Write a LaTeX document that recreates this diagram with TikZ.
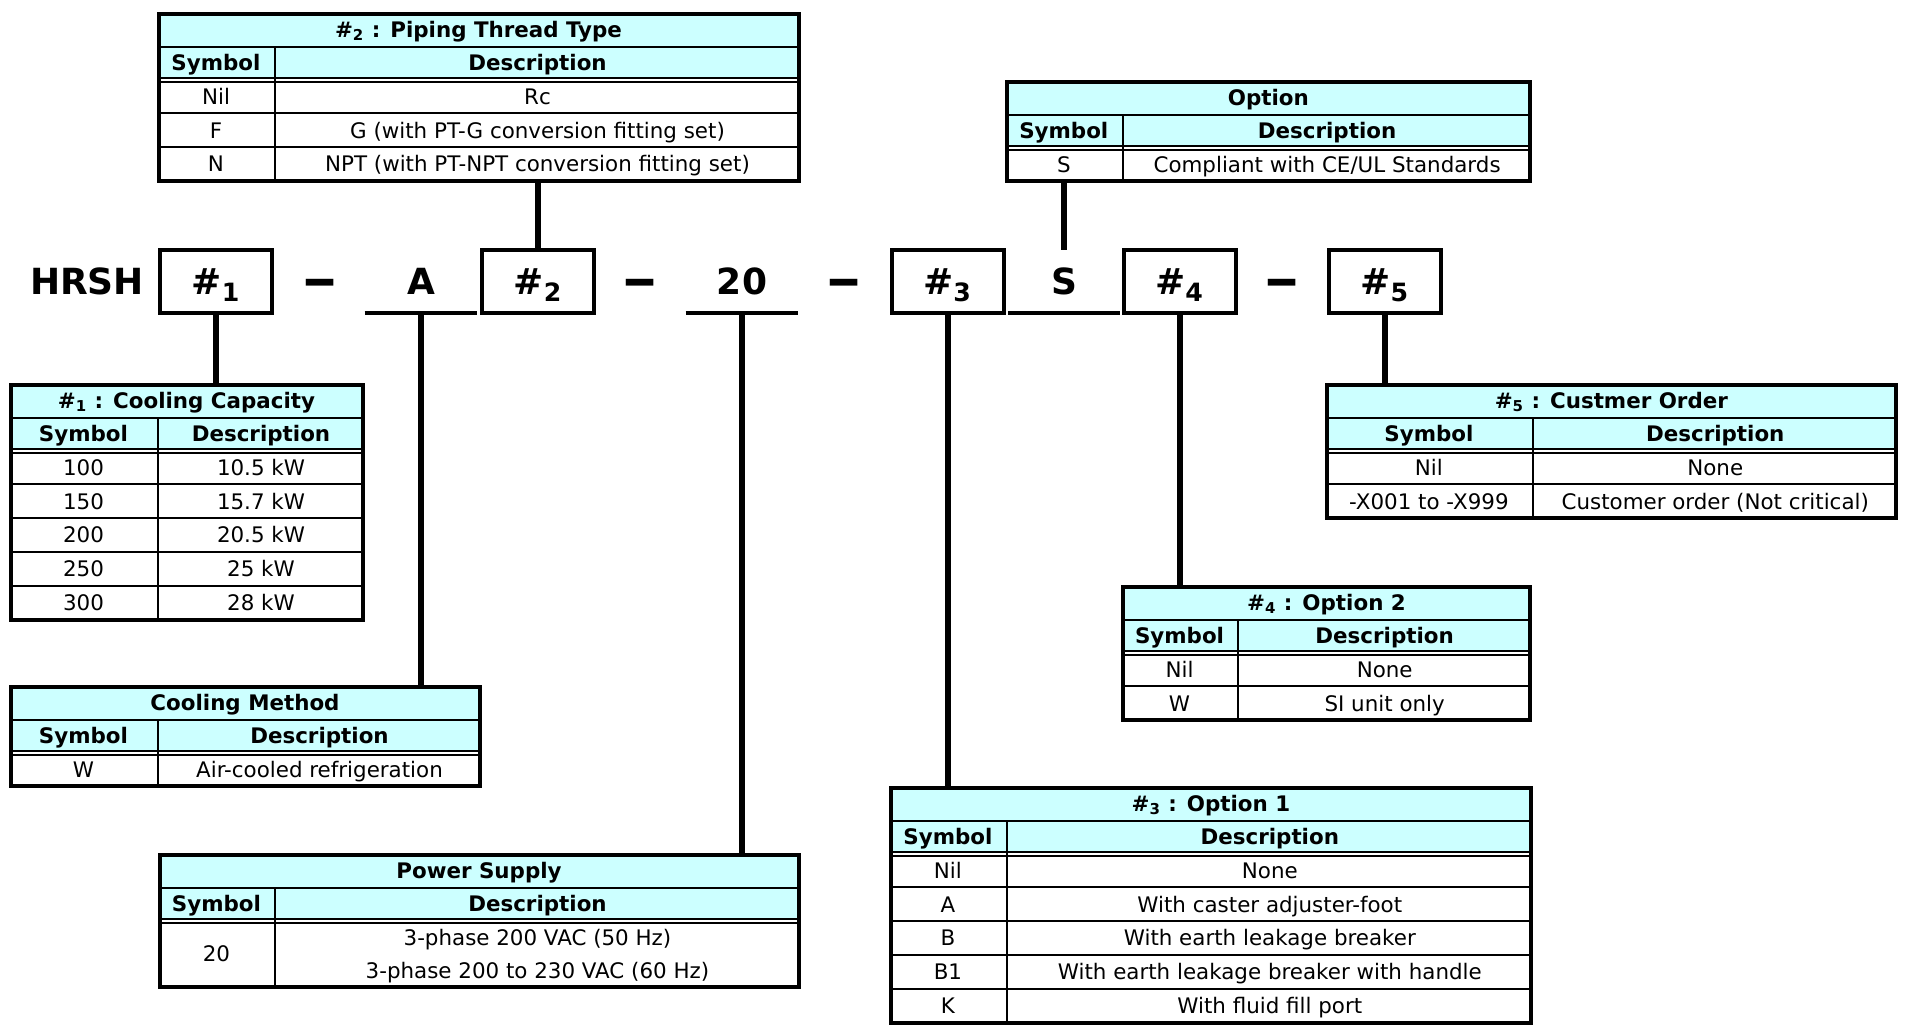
\documentclass[tikz,border=0pt]{standalone}
\usepackage{fontspec}
\setmainfont{DejaVu Sans}
\usetikzlibrary{fit}
\definecolor{hdr}{RGB}{204,255,255}
\tikzset{
  cell/.style={inner sep=0pt, font=\fontsize{10.7}{12}\selectfont, text height=7.8pt, text depth=0pt},
  hcell/.style={inner sep=0pt, font=\fontsize{10.7}{12}\selectfont\bfseries, text height=7.8pt, text depth=0pt},
  big/.style={inner sep=0pt, font=\fontsize{18}{22}\selectfont\bfseries, text height=13.1pt, text depth=0pt, minimum width=56pt, minimum height=31.5pt},
  codebox/.style={big, draw, line width=2pt},
  dashmark/.style={inner sep=0pt, font=\fontsize{27}{30}\selectfont\bfseries, text height=0pt, text depth=0pt},
  conn/.style={line width=3pt},
  thinline/.style={line width=1pt},
  frame/.style={draw, line width=2pt, inner sep=0pt},
  uline/.style={line width=2pt},
}
\newcommand{\spectab}[9]{%
  % #1 name, #2 x0, #3 y0, #4 x1, #5 divider x, #6 title, #7 rows, #8 row height, #9 list
  \pgfmathsetmacro\tya{#3+34.5}%
  \pgfmathsetmacro\tyb{#3+67.5}%
  \pgfmathsetmacro\tyc{#3+67.5+#7*#8}%
  \fill[hdr] (#2,#3) rectangle (#4,\tyb-2);
  \node[hcell] (#1-title) at ({(#2+#4)/2},{(#3+\tya)/2}) {#6};
  \node[hcell] (#1-sym) at ({(#2+#5)/2},{(\tya+\tyb)/2}) {Symbol};
  \node[hcell] (#1-desc) at ({(#5+#4)/2},{(\tya+\tyb)/2}) {Description};
  \draw[thinline] (#2,\tya) -- (#4,\tya);
  \draw[thinline] (#2,\tyb-2) -- (#4,\tyb-2) (#2,\tyb+2) -- (#4,\tyb+2);
  \draw[thinline] (#5,\tya) -- (#5,\tyc);
  \foreach \s/\d [count=\i] in {#9} {
    \pgfmathsetmacro\tyr{\tyb+(\i-0.5)*#8}
    \node[cell] (#1-s\i) at ({(#2+#5)/2},\tyr) {\s};
    \node[cell] (#1-d\i) at ({(#5+#4)/2},\tyr) {\d};
    \ifnum\i<#7 \draw[thinline] (#2,{\tyb+\i*#8}) -- (#4,{\tyb+\i*#8}); \fi
  }
  \coordinate (#1-nw) at ({#2+1.5},{#3+1.5});
  \coordinate (#1-se) at ({#4-1.5},\tyc);
  \node[frame, fit=(#1-nw)(#1-se)] (#1) {};
}
\begin{document}
\begin{tikzpicture}[x=0.5pt,y=-0.5pt]
\useasboundingbox (0,0) rectangle (1910,1024);

% model code line
\node[big, minimum width=0pt] (hrsh) at (87,281.5) {HRSH};
\node[codebox] (b1) at (216,281.5) {\#\textsubscript{1}};
\node[dashmark] (d1) at (320,297) {\scalebox{1.3}[1]{–}};
\node[big] (la) at (421,281.5) {A};
\node[codebox] (b2) at (538,281.5) {\#\textsubscript{2}};
\node[dashmark] (d2) at (640.5,297) {\scalebox{1.3}[1]{–}};
\node[big] (l20) at (742,281.5) {20};
\node[dashmark] (d3) at (844.5,297) {\scalebox{1.3}[1]{–}};
\node[codebox] (b3) at (947.5,281.5) {\#\textsubscript{3}};
\node[big, minimum width=55.5pt] (ls) at (1064,281.5) {S};
\node[codebox] (b4) at (1179.5,281.5) {\#\textsubscript{4}};
\node[dashmark] (d4) at (1282.5,297) {\scalebox{1.3}[1]{–}};
\node[codebox] (b5) at (1384.7,281.5) {\#\textsubscript{5}};
\draw[uline] (la.south west) -- (la.south east);
\draw[uline] (l20.south west) -- (l20.south east);
\draw[uline] (ls.south west) -- (ls.south east);

% tables
\spectab{t2}{157}{12}{800}{275}{\#\textsubscript{2} : Piping Thread Type}{3}{33.8}{Nil/Rc,F/{G (with PT-G conversion fitting set)},N/{NPT (with PT-NPT conversion fitting set)}}
\spectab{to}{1005}{80}{1531.6}{1122.6}{Option}{1}{33.8}{S/{Compliant with CE/UL Standards}}
\spectab{t1}{9}{383}{364}{158}{\#\textsubscript{1} : Cooling Capacity}{5}{33.8}{100/10.5 kW,150/15.7 kW,200/20.5 kW,250/25 kW,300/28 kW}
\spectab{tc}{9}{685}{481}{158}{Cooling Method}{1}{33.8}{W/Air-cooled refrigeration}
\spectab{tp}{158}{853}{800}{275}{Power Supply}{1}{66}{20/{}}
\node[cell] (tp-l1) at (537.5,938) {3-phase 200 VAC (50 Hz)};
\node[cell] (tp-l2) at (537.5,970.5) {3-phase 200 to 230 VAC (60 Hz)};
\spectab{t3}{889}{786}{1532.8}{1006.8}{\#\textsubscript{3} : Option 1}{5}{33.8}{Nil/None,A/With caster adjuster-foot,B/With earth leakage breaker,B1/With earth leakage breaker with handle,K/With fluid fill port}
\spectab{t4}{1121.4}{585}{1531.6}{1237.7}{\#\textsubscript{4} : Option 2}{2}{33.8}{Nil/None,W/SI unit only}
\spectab{t5}{1325}{383}{1897.7}{1532.8}{\#\textsubscript{5} : Custmer Order}{2}{33.8}{Nil/None,-X001 to -X999/Customer order (Not critical)}

% connectors
\draw[conn] (b1.south) -- (b1.south |- t1.north);
\draw[conn] (b2.north) -- (b2.north |- t2.south);
\draw[conn] (la.south) -- (la.south |- tc.north);
\draw[conn] (l20.south) -- (l20.south |- tp.north);
\draw[conn] (b3.south) -- (b3.south |- t3.north);
\draw[conn] (ls.north) -- (ls.north |- to.south);
\draw[conn] (b4.south) -- (b4.south |- t4.north);
\draw[conn] (b5.south) -- (b5.south |- t5.north);
\end{tikzpicture}
\end{document}
